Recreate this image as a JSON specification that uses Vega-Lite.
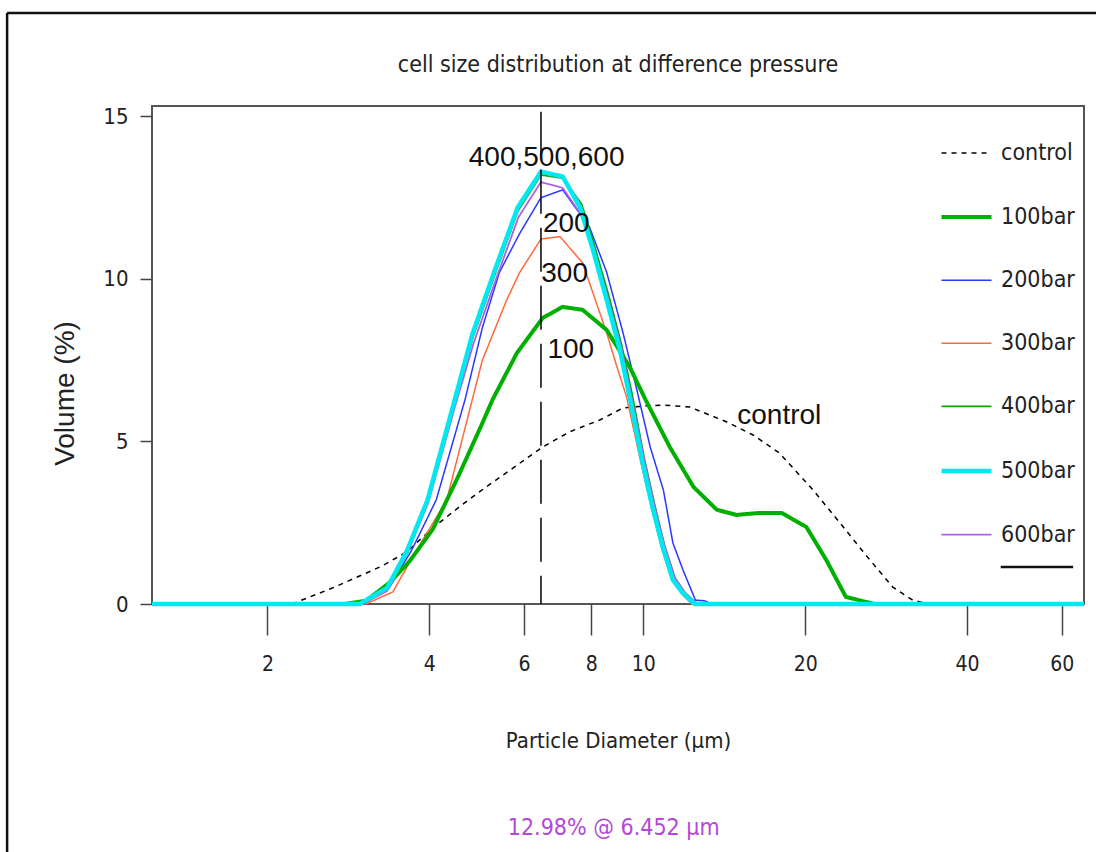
{
  "$schema": "https://vega.github.io/schema/vega-lite/v6.json",
  "width": 932,
  "height": 498,
  "autosize": {"type": "none"},
  "padding": {"left": 152, "top": 106, "right": 12, "bottom": 248},
  "background": "white",
  "title": {
    "text": "cell size distribution at difference pressure",
    "font": "DejaVu Sans Condensed, Liberation Sans, sans-serif",
    "fontSize": 23,
    "fontWeight": "normal",
    "color": "#222222",
    "anchor": "middle",
    "baseline": "middle",
    "offset": -76
  },
  "datasets": {
    "curves": [
      {"s": "control", "d": 1.22, "v": 0}, {"s": "control", "d": 2.22, "v": 0}, {"s": "control", "d": 2.64, "v": 0.49}, {"s": "control", "d": 3.27, "v": 1.17}, {"s": "control", "d": 3.63, "v": 1.6}, {"s": "control", "d": 4.06, "v": 2.34}, {"s": "control", "d": 4.6, "v": 3.05}, {"s": "control", "d": 5.1, "v": 3.6}, {"s": "control", "d": 5.8, "v": 4.25}, {"s": "control", "d": 6.5, "v": 4.83}, {"s": "control", "d": 7.3, "v": 5.3}, {"s": "control", "d": 8.3, "v": 5.66}, {"s": "control", "d": 9.17, "v": 6.03}, {"s": "control", "d": 10.2, "v": 6.1}, {"s": "control", "d": 10.9, "v": 6.12}, {"s": "control", "d": 12.2, "v": 6.06}, {"s": "control", "d": 14.3, "v": 5.6}, {"s": "control", "d": 16.0, "v": 5.2}, {"s": "control", "d": 17.9, "v": 4.65}, {"s": "control", "d": 20.7, "v": 3.5}, {"s": "control", "d": 23.2, "v": 2.5}, {"s": "control", "d": 26.1, "v": 1.45}, {"s": "control", "d": 29.1, "v": 0.52}, {"s": "control", "d": 31.7, "v": 0.12}, {"s": "control", "d": 33.8, "v": 0}, {"s": "control", "d": 66, "v": 0},

      {"s": "300bar", "d": 1.22, "v": 0}, {"s": "300bar", "d": 3.05, "v": 0}, {"s": "300bar", "d": 3.24, "v": 0.2}, {"s": "300bar", "d": 3.42, "v": 0.37}, {"s": "300bar", "d": 3.79, "v": 1.66}, {"s": "300bar", "d": 4.31, "v": 3.2}, {"s": "300bar", "d": 4.81, "v": 6.3}, {"s": "300bar", "d": 5.02, "v": 7.5}, {"s": "300bar", "d": 5.57, "v": 9.35}, {"s": "300bar", "d": 5.89, "v": 10.2}, {"s": "300bar", "d": 6.452, "v": 11.23}, {"s": "300bar", "d": 7.0, "v": 11.3}, {"s": "300bar", "d": 7.71, "v": 10.5}, {"s": "300bar", "d": 8.06, "v": 9.57}, {"s": "300bar", "d": 8.55, "v": 8.34}, {"s": "300bar", "d": 8.93, "v": 7.3}, {"s": "300bar", "d": 9.31, "v": 6.37}, {"s": "300bar", "d": 9.9, "v": 4.34}, {"s": "300bar", "d": 10.35, "v": 2.98}, {"s": "300bar", "d": 10.8, "v": 1.75}, {"s": "300bar", "d": 11.3, "v": 0.74}, {"s": "300bar", "d": 11.8, "v": 0.3}, {"s": "300bar", "d": 12.3, "v": 0}, {"s": "300bar", "d": 66, "v": 0},

      {"s": "200bar", "d": 1.22, "v": 0}, {"s": "200bar", "d": 3.02, "v": 0}, {"s": "200bar", "d": 3.37, "v": 0.5}, {"s": "200bar", "d": 3.71, "v": 1.66}, {"s": "200bar", "d": 4.12, "v": 3.2}, {"s": "200bar", "d": 4.66, "v": 6.28}, {"s": "200bar", "d": 5.02, "v": 8.5}, {"s": "200bar", "d": 5.4, "v": 10.2}, {"s": "200bar", "d": 5.89, "v": 11.4}, {"s": "200bar", "d": 6.452, "v": 12.5}, {"s": "200bar", "d": 7.08, "v": 12.74}, {"s": "200bar", "d": 7.94, "v": 11.6}, {"s": "200bar", "d": 8.55, "v": 10.2}, {"s": "200bar", "d": 9.17, "v": 8.34}, {"s": "200bar", "d": 9.73, "v": 6.58}, {"s": "200bar", "d": 10.3, "v": 4.83}, {"s": "200bar", "d": 10.9, "v": 3.5}, {"s": "200bar", "d": 11.35, "v": 1.88}, {"s": "200bar", "d": 11.85, "v": 1.05}, {"s": "200bar", "d": 12.5, "v": 0.12}, {"s": "200bar", "d": 13.0, "v": 0.1}, {"s": "200bar", "d": 13.4, "v": 0}, {"s": "200bar", "d": 66, "v": 0},

      {"s": "100bar", "d": 1.22, "v": 0}, {"s": "100bar", "d": 2.78, "v": 0}, {"s": "100bar", "d": 3.05, "v": 0.1}, {"s": "100bar", "d": 3.37, "v": 0.65}, {"s": "100bar", "d": 3.67, "v": 1.3}, {"s": "100bar", "d": 4.06, "v": 2.3}, {"s": "100bar", "d": 4.52, "v": 3.9}, {"s": "100bar", "d": 5.0, "v": 5.5}, {"s": "100bar", "d": 5.25, "v": 6.3}, {"s": "100bar", "d": 5.82, "v": 7.72}, {"s": "100bar", "d": 6.5, "v": 8.8}, {"s": "100bar", "d": 7.08, "v": 9.14}, {"s": "100bar", "d": 7.71, "v": 9.05}, {"s": "100bar", "d": 8.55, "v": 8.43}, {"s": "100bar", "d": 9.43, "v": 7.3}, {"s": "100bar", "d": 10.1, "v": 6.28}, {"s": "100bar", "d": 11.2, "v": 4.83}, {"s": "100bar", "d": 12.4, "v": 3.6}, {"s": "100bar", "d": 13.7, "v": 2.9}, {"s": "100bar", "d": 14.9, "v": 2.74}, {"s": "100bar", "d": 16.4, "v": 2.8}, {"s": "100bar", "d": 18.1, "v": 2.8}, {"s": "100bar", "d": 20.1, "v": 2.37}, {"s": "100bar", "d": 21.9, "v": 1.35}, {"s": "100bar", "d": 23.8, "v": 0.22}, {"s": "100bar", "d": 26, "v": 0.06}, {"s": "100bar", "d": 27, "v": 0}, {"s": "100bar", "d": 66, "v": 0},

      {"s": "400bar", "d": 1.22, "v": 0}, {"s": "400bar", "d": 2.98, "v": 0}, {"s": "400bar", "d": 3.34, "v": 0.45}, {"s": "400bar", "d": 3.65, "v": 1.6}, {"s": "400bar", "d": 3.98, "v": 3.15}, {"s": "400bar", "d": 4.47, "v": 6.2}, {"s": "400bar", "d": 4.82, "v": 8.2}, {"s": "400bar", "d": 5.34, "v": 10.3}, {"s": "400bar", "d": 5.85, "v": 12.1}, {"s": "400bar", "d": 6.452, "v": 13.2}, {"s": "400bar", "d": 7.08, "v": 13.1}, {"s": "400bar", "d": 7.68, "v": 12.3}, {"s": "400bar", "d": 8.12, "v": 11.0}, {"s": "400bar", "d": 8.62, "v": 9.5}, {"s": "400bar", "d": 9.12, "v": 7.95}, {"s": "400bar", "d": 9.52, "v": 6.5}, {"s": "400bar", "d": 10.05, "v": 4.45}, {"s": "400bar", "d": 10.5, "v": 3.05}, {"s": "400bar", "d": 10.95, "v": 1.8}, {"s": "400bar", "d": 11.45, "v": 0.8}, {"s": "400bar", "d": 11.95, "v": 0.35}, {"s": "400bar", "d": 12.6, "v": 0}, {"s": "400bar", "d": 66, "v": 0},

      {"s": "600bar", "d": 1.22, "v": 0}, {"s": "600bar", "d": 3.0, "v": 0}, {"s": "600bar", "d": 3.34, "v": 0.4}, {"s": "600bar", "d": 3.64, "v": 1.6}, {"s": "600bar", "d": 3.98, "v": 3.1}, {"s": "600bar", "d": 4.47, "v": 6.1}, {"s": "600bar", "d": 4.83, "v": 8.0}, {"s": "600bar", "d": 5.35, "v": 10.1}, {"s": "600bar", "d": 5.86, "v": 11.9}, {"s": "600bar", "d": 6.452, "v": 12.98}, {"s": "600bar", "d": 7.08, "v": 12.8}, {"s": "600bar", "d": 7.65, "v": 12.0}, {"s": "600bar", "d": 8.1, "v": 10.9}, {"s": "600bar", "d": 8.6, "v": 9.4}, {"s": "600bar", "d": 9.1, "v": 7.9}, {"s": "600bar", "d": 9.5, "v": 6.4}, {"s": "600bar", "d": 10.05, "v": 4.4}, {"s": "600bar", "d": 10.5, "v": 3.0}, {"s": "600bar", "d": 10.95, "v": 1.8}, {"s": "600bar", "d": 11.45, "v": 0.8}, {"s": "600bar", "d": 11.95, "v": 0.35}, {"s": "600bar", "d": 12.5, "v": 0.05}, {"s": "600bar", "d": 12.9, "v": 0}, {"s": "600bar", "d": 66, "v": 0},

      {"s": "500bar", "d": 1.22, "v": 0}, {"s": "500bar", "d": 2.97, "v": 0}, {"s": "500bar", "d": 3.34, "v": 0.5}, {"s": "500bar", "d": 3.64, "v": 1.66}, {"s": "500bar", "d": 3.97, "v": 3.2}, {"s": "500bar", "d": 4.46, "v": 6.28}, {"s": "500bar", "d": 4.81, "v": 8.3}, {"s": "500bar", "d": 5.33, "v": 10.4}, {"s": "500bar", "d": 5.84, "v": 12.2}, {"s": "500bar", "d": 6.452, "v": 13.3}, {"s": "500bar", "d": 7.08, "v": 13.15}, {"s": "500bar", "d": 7.63, "v": 12.2}, {"s": "500bar", "d": 8.06, "v": 10.9}, {"s": "500bar", "d": 8.55, "v": 9.35}, {"s": "500bar", "d": 9.05, "v": 7.8}, {"s": "500bar", "d": 9.43, "v": 6.37}, {"s": "500bar", "d": 9.97, "v": 4.34}, {"s": "500bar", "d": 10.4, "v": 2.98}, {"s": "500bar", "d": 10.87, "v": 1.75}, {"s": "500bar", "d": 11.35, "v": 0.74}, {"s": "500bar", "d": 11.84, "v": 0.34}, {"s": "500bar", "d": 12.47, "v": 0}, {"s": "500bar", "d": 66, "v": 0}
    ],
    "notes": [
      {"t": "400,500,600", "d": 6.61, "v": 13.72},
      {"t": "200", "d": 7.19, "v": 11.69},
      {"t": "300", "d": 7.14, "v": 10.15},
      {"t": "100", "d": 7.33, "v": 7.82},
      {"t": "control", "d": 17.9, "v": 5.78}
    ],
    "peak": [
      {"t": "12.98% @ 6.452 µm", "d": 8.81, "v": -6.89}
    ],
    "marker": [
      {"d": 6.452, "v": 15.14, "d2": 6.452, "v2": 0}
    ],
    "frame": [
      {"d": 0.656, "v": 18.18, "d2": 0.656, "v2": -8},
      {"d": 0.656, "v": 18.18, "d2": 80, "v2": 18.18},
      {"d": 46.2, "v": 1.14, "d2": 63, "v2": 1.14}
    ]
  },
  "layer": [
    {
      "data": {"name": "frame"},
      "mark": {"type": "rule", "color": "#111111", "strokeWidth": 2.5, "clip": false},
      "encoding": {
        "x": {"field": "d", "type": "quantitative", "scale": {"type": "log", "domain": [1.22, 66], "nice": false}},
        "y": {"field": "v", "type": "quantitative"},
        "x2": {"field": "d2"},
        "y2": {"field": "v2"}
      }
    },
    {
      "data": {"name": "curves"},
      "mark": {"type": "line", "clip": false},
      "encoding": {
        "x": {
          "field": "d",
          "type": "quantitative",
          "scale": {"type": "log", "domain": [1.22, 66], "nice": false},
          "axis": {
            "values": [2, 4, 6, 8, 10, 20, 40, 60],
            "title": "Particle Diameter (µm)",
            "titleY": 136,
            "titleBaseline": "middle",
            "titleFontSize": 22,
            "tickSize": 31,
            "labelPadding": 18,
            "labelFontSize": 21
          }
        },
        "y": {
          "field": "v",
          "type": "quantitative",
          "scale": {"domain": [0, 15.32], "nice": false},
          "axis": {
            "values": [0, 5, 10, 15],
            "title": "Volume (%)",
            "titleX": -87,
            "titleY": 287,
            "titleAlign": "center",
            "titleBaseline": "middle",
            "titleFont": "Liberation Sans",
            "titleFontSize": 28,
            "tickSize": 12,
            "labelPadding": 12,
            "labelFontSize": 22
          }
        },
        "color": {
          "field": "s",
          "type": "nominal",
          "scale": {
            "domain": ["control", "100bar", "200bar", "300bar", "400bar", "500bar", "600bar"],
            "range": ["#000000", "#00b000", "#2838ff", "#ff6a3a", "#10a010", "#00e8f0", "#b060e0"]
          },
          "legend": {"title": null}
        },
        "strokeDash": {
          "field": "s",
          "type": "nominal",
          "scale": {
            "domain": ["control", "100bar", "200bar", "300bar", "400bar", "500bar", "600bar"],
            "range": [[5, 5], [1, 0], [1, 0], [1, 0], [1, 0], [1, 0], [1, 0]]
          },
          "legend": {"title": null}
        },
        "strokeWidth": {
          "field": "s",
          "type": "nominal",
          "scale": {
            "type": "ordinal",
            "domain": ["control", "100bar", "200bar", "300bar", "400bar", "500bar", "600bar"],
            "range": [1.5, 4, 1.5, 1.5, 1.8, 4.5, 1.8]
          },
          "legend": {"title": null}
        }
      }
    },
    {
      "data": {"name": "marker"},
      "mark": {"type": "rule", "color": "#111111", "strokeWidth": 1.6, "strokeDash": [44, 14]},
      "encoding": {
        "x": {"field": "d", "type": "quantitative"},
        "y": {"field": "v", "type": "quantitative"},
        "x2": {"field": "d2"},
        "y2": {"field": "v2"}
      }
    },
    {
      "data": {"name": "notes"},
      "mark": {"type": "text", "font": "Liberation Sans", "fontSize": 28, "color": "#111111", "align": "center", "baseline": "middle", "clip": false},
      "encoding": {
        "x": {"field": "d", "type": "quantitative"},
        "y": {"field": "v", "type": "quantitative"},
        "text": {"field": "t"}
      }
    },
    {
      "data": {"name": "peak"},
      "mark": {"type": "text", "font": "DejaVu Sans Condensed, Liberation Sans, sans-serif", "fontSize": 23, "color": "#b348d8", "align": "center", "baseline": "middle", "clip": false},
      "encoding": {
        "x": {"field": "d", "type": "quantitative"},
        "y": {"field": "v", "type": "quantitative"},
        "text": {"field": "t"}
      }
    }
  ],
  "config": {
    "view": {"stroke": "#555555", "strokeWidth": 2},
    "axis": {
      "grid": false,
      "domain": false,
      "tickColor": "#444444",
      "tickWidth": 1.5,
      "labelFont": "DejaVu Sans Condensed, Liberation Sans, sans-serif",
      "labelColor": "#222222",
      "titleFont": "DejaVu Sans Condensed, Liberation Sans, sans-serif",
      "titleFontSize": 22,
      "titleFontWeight": "normal",
      "titleColor": "#222222"
    },
    "legend": {
      "orient": "none",
      "legendX": 787,
      "legendY": 21,
      "padding": 0,
      "symbolType": "stroke",
      "symbolSize": 2500,
      "labelFont": "DejaVu Sans Condensed, Liberation Sans, sans-serif",
      "labelFontSize": 23,
      "labelColor": "#222222",
      "labelOffset": 7,
      "rowPadding": 25.1
    }
  }
}
